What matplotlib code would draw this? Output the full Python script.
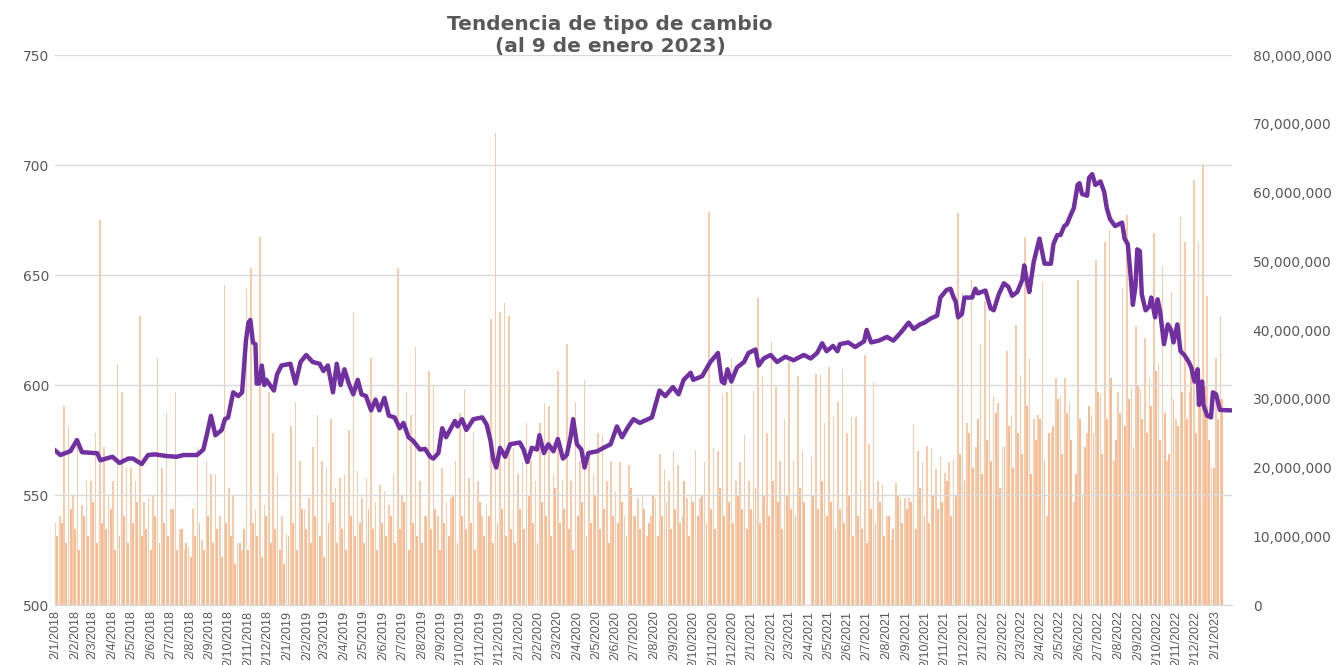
import matplotlib
matplotlib.use('Agg')
import matplotlib.pyplot as plt
from matplotlib.ticker import FuncFormatter
import numpy as np
import pandas as pd

# tipo de cambio (eje izquierdo)
rate_dates = [
    '2018-01-02', '2018-01-10', '2018-01-26', '2018-02-05', '2018-02-13', '2018-03-09', '2018-03-14',
    '2018-03-23', '2018-04-02', '2018-04-13', '2018-04-27', '2018-05-04', '2018-05-18', '2018-05-28',
    '2018-06-08', '2018-06-27', '2018-07-12', '2018-07-23', '2018-08-13', '2018-08-23', '2018-08-29',
    '2018-09-04', '2018-09-11', '2018-09-21', '2018-09-26', '2018-10-01', '2018-10-09', '2018-10-17',
    '2018-10-23', '2018-10-29', '2018-11-02', '2018-11-05', '2018-11-09', '2018-11-13', '2018-11-15',
    '2018-11-19', '2018-11-23', '2018-11-27', '2018-11-30', '2018-12-12', '2018-12-17', '2018-12-24',
    '2019-01-07', '2019-01-15', '2019-01-23', '2019-02-01', '2019-02-11', '2019-02-22', '2019-02-28',
    '2019-03-07', '2019-03-15', '2019-03-21', '2019-03-27', '2019-04-02', '2019-04-09', '2019-04-16',
    '2019-04-23', '2019-04-29', '2019-05-06', '2019-05-14', '2019-05-21', '2019-05-27', '2019-06-04',
    '2019-06-11', '2019-06-20', '2019-06-28', '2019-07-04', '2019-07-12', '2019-07-19', '2019-07-30',
    '2019-08-07', '2019-08-15', '2019-08-20', '2019-08-28', '2019-09-03', '2019-09-09', '2019-09-23',
    '2019-09-27', '2019-10-04', '2019-10-11', '2019-10-22', '2019-11-05', '2019-11-12', '2019-11-18',
    '2019-11-22', '2019-11-27', '2019-12-03', '2019-12-11', '2019-12-19',
    '2020-01-03', '2020-01-09', '2020-01-15', '2020-01-22', '2020-01-30', '2020-02-03', '2020-02-10',
    '2020-02-17', '2020-02-25', '2020-03-03', '2020-03-11', '2020-03-17', '2020-03-23', '2020-03-27',
    '2020-04-02', '2020-04-09', '2020-04-14', '2020-04-20', '2020-05-04', '2020-05-14', '2020-05-25',
    '2020-06-04', '2020-06-12', '2020-06-22', '2020-06-30', '2020-07-10', '2020-07-29', '2020-08-10',
    '2020-08-19', '2020-08-31', '2020-09-09', '2020-09-17', '2020-09-28', '2020-10-02', '2020-10-16',
    '2020-10-29', '2020-11-10', '2020-11-16', '2020-11-20', '2020-11-25', '2020-12-01', '2020-12-10',
    '2020-12-21', '2020-12-28',
    '2021-01-08', '2021-01-13', '2021-01-21', '2021-02-01', '2021-02-11', '2021-02-24', '2021-03-09',
    '2021-03-25', '2021-04-05', '2021-04-15', '2021-04-23', '2021-04-30', '2021-05-10', '2021-05-17',
    '2021-05-21', '2021-06-03', '2021-06-14', '2021-06-28', '2021-07-02', '2021-07-09', '2021-07-21',
    '2021-08-03', '2021-08-13', '2021-08-26', '2021-09-06', '2021-09-14', '2021-09-24', '2021-10-01',
    '2021-10-11', '2021-10-21', '2021-10-26', '2021-11-05', '2021-11-11', '2021-11-16', '2021-11-19',
    '2021-11-23', '2021-11-29', '2021-12-03', '2021-12-15', '2021-12-20', '2021-12-24',
    '2022-01-05', '2022-01-13', '2022-01-18', '2022-01-26', '2022-02-03', '2022-02-10', '2022-02-16',
    '2022-02-24', '2022-03-04', '2022-03-07', '2022-03-11', '2022-03-15', '2022-03-22', '2022-03-31',
    '2022-04-04', '2022-04-08', '2022-04-18', '2022-04-22', '2022-04-28', '2022-05-03', '2022-05-09',
    '2022-05-13', '2022-05-19', '2022-05-24', '2022-05-30', '2022-06-02', '2022-06-06', '2022-06-14',
    '2022-06-17', '2022-06-22', '2022-06-27', '2022-07-05', '2022-07-11', '2022-07-15', '2022-07-20',
    '2022-07-28', '2022-08-08', '2022-08-12', '2022-08-17', '2022-08-22', '2022-08-25', '2022-08-29',
    '2022-09-01', '2022-09-05', '2022-09-08', '2022-09-14', '2022-09-20', '2022-09-23', '2022-09-29',
    '2022-10-03', '2022-10-07', '2022-10-13', '2022-10-19', '2022-10-24', '2022-10-28', '2022-11-03',
    '2022-11-08', '2022-11-14', '2022-11-21', '2022-11-25', '2022-11-30', '2022-12-05', '2022-12-07',
    '2022-12-12', '2022-12-14', '2022-12-20', '2022-12-26', '2022-12-29',
    '2023-01-03', '2023-01-09', '2023-01-27',
]
rate_values = [
    570.2, 568.2, 570.0, 575.0, 569.5, 569.0, 565.8,
    566.6, 567.4, 564.6, 566.6, 566.6, 564.1, 568.2,
    568.5, 567.7, 567.4, 568.2, 568.2, 570.7, 578.0,
    586.0, 577.2, 579.6, 584.5, 585.3, 596.7, 595.0,
    596.7, 620.0, 628.4, 629.6, 619.4, 618.6, 600.7,
    600.7, 608.9, 600.0, 602.4, 597.5, 604.8, 608.9,
    609.7, 600.7, 610.5, 613.7, 610.5, 609.7, 606.4,
    608.9, 596.7, 609.7, 600.0, 607.2, 600.7, 595.8,
    602.4, 595.8, 595.0, 588.5, 593.4, 588.5, 594.2,
    586.1, 585.3, 580.4, 582.8, 576.3, 574.7, 570.7,
    571.0, 567.4, 566.6, 569.1, 580.4, 576.3, 583.7,
    581.2, 584.5, 579.6, 584.5, 585.3, 582.0, 574.7,
    566.6, 562.5, 571.5, 567.4, 573.1,
    573.9, 570.7, 565.0, 571.5, 570.7, 577.2, 569.1,
    573.1, 569.9, 575.5, 566.6, 568.2, 576.3, 584.5,
    573.1, 570.7, 562.5, 569.1, 569.9, 571.5, 573.1,
    581.2, 576.3, 581.2, 584.5, 582.8, 585.3, 597.5,
    595.0, 599.1, 595.8, 602.4, 605.6, 602.4, 604.0,
    610.5, 614.6, 601.6, 600.8, 607.2, 601.6, 608.0,
    610.5, 614.6,
    616.2, 608.9, 612.1, 613.7, 610.5, 612.9, 611.3,
    613.7, 612.1, 614.6, 619.0, 615.4, 617.8, 615.4,
    618.6, 619.4, 617.3, 619.9, 625.1, 619.4, 620.2,
    621.9, 620.2, 624.3, 628.4, 625.5, 627.6, 628.4,
    630.3, 631.6, 639.8, 643.3, 643.8, 639.8, 638.1,
    630.8, 632.4, 639.8, 639.8, 643.8, 641.7,
    643.0, 634.9, 634.0, 641.3, 646.3, 644.7, 640.6,
    642.3, 647.9, 654.4, 647.9, 642.3, 656.1, 666.6,
    660.9, 655.2, 655.2, 664.1, 668.2, 668.2, 672.3,
    673.1, 677.2, 680.4, 691.0, 691.8, 686.9, 686.1,
    694.2, 695.9, 691.0, 692.6, 687.7, 680.4, 675.5,
    672.3, 673.9, 666.6, 664.1, 647.9, 636.5, 644.7,
    661.7, 660.9, 641.3, 634.0, 635.7, 639.8, 630.8,
    639.0, 633.2, 618.6, 627.6, 625.1, 619.4, 627.6,
    615.4, 613.7, 610.5, 608.0, 601.6, 607.2, 591.0,
    601.6, 591.0, 586.1, 585.3, 596.7,
    595.8, 588.7, 588.5,
]

# volumen transado (eje derecho, millones), una lectura por semana desde 2/1/2018:
# el dia mas alto de cada semana ...
volume_peak_mm = [
    12, 13, 29, 26, 16, 24, 14.5, 18, 18, 25, 56, 23, 16, 18, 35, 31, 20, 20, 18, 42,
    15, 15.5, 16, 36, 20, 28, 14, 31, 11, 8, 8.5, 14, 23, 9.5, 21, 19, 19, 13, 46.6, 17,
    16, 9, 8, 46, 49, 14, 53.6, 14.5, 31, 25, 19, 13, 10.4, 26, 29.6, 21, 14, 15.6, 23, 27.6,
    21, 20, 27, 17, 18.5, 19, 25.5, 42.7, 19.5, 15.6, 18.5, 36, 15, 17.5, 16.6, 14.5, 19, 49, 15.9, 31,
    27.6, 37.5, 18, 13, 34, 32, 13, 20, 15, 15.6, 21, 28, 31.5, 18.5, 25, 18, 13, 14.6, 41.6, 68.7,
    42.7, 44, 42, 22.9, 19, 20.8, 26.5, 21, 18, 26.5, 29.4, 29, 19, 34, 18, 38, 18, 29.6, 21, 32.8,
    22.4, 19, 25, 24.7, 18, 21, 16.6, 20.8, 13, 20.3, 13, 15.6, 16, 10, 13, 15.6, 22, 19.8, 18, 22.4,
    20.3, 13, 15.6, 16, 22.6, 15.6, 20.8, 57.2, 22.9, 22.4, 30.7, 31, 35.9, 18, 20.8, 24.7, 18, 31.2, 44.7, 33.3,
    25, 38.2, 31.7, 21, 27, 35.4, 21, 33.3, 22.4, 0, 21.6, 33.6, 33.6, 26.5, 34.6, 27.3, 29.6, 34.3, 25, 27.3,
    27.3, 18, 36.4, 23.4, 32.5, 18, 17.4, 13, 9.4, 17.7, 15.6, 15.6, 15.6, 26.3, 22.4, 20.8, 23.1, 22.9, 19.8, 21.6,
    19.2, 20.8, 21.3, 57, 45.5, 26.5, 47.3, 23, 38, 44.2, 41.4, 30.4, 29.4, 23, 36.9, 27.6, 40.8, 33.5, 53.5, 35.9,
    27, 27.6, 47, 13, 25, 33, 30.4, 33, 29.4, 15, 47.3, 16, 25, 27.6, 50.2, 30.7, 52.8, 54.6, 21, 31,
    46, 56.7, 31.7, 40.6, 31.5, 38.8, 33, 54.1, 35, 49.4, 21, 45.5, 27, 56.4, 52.8, 31, 61.9, 52.8, 64.2, 45,
    20, 35.9, 42.1,
]
# ... y el nivel habitual del resto de la semana
volume_typ_mm = [
    10, 12, 9, 14, 11, 8, 13, 10, 15, 9, 12, 11, 14, 8, 10, 13, 9, 12, 15, 10,
    11, 8, 13, 9, 12, 10, 14, 8, 11, 9, 7, 10, 12, 8,
    13, 9, 11, 7, 12, 10, 6, 9, 11, 8, 12, 10, 7, 13, 9, 11, 8, 6,
    10, 12, 8, 14, 11, 9, 13, 10, 7, 12, 15, 9, 11, 8, 13, 10, 12, 9, 14, 11,
    8, 12, 10, 13, 9, 11, 15, 8, 12, 10, 9, 13, 11, 14, 8, 12, 10, 16, 9, 13,
    11, 12, 8, 15, 10, 13, 9, 12, 14, 10, 11, 9,
    14, 11, 16, 12, 9, 15, 13, 10, 17, 12, 14, 11, 8, 13, 15, 10, 12, 16, 11, 14,
    9, 13, 12, 15, 10, 17, 13, 11, 14, 12, 16, 10, 13, 15, 11, 14, 12, 18, 10, 15,
    13, 16, 12, 14, 11, 17, 13, 15, 12, 16, 14, 11,
    14, 17, 12, 16, 13, 18, 15, 11, 16, 14, 13, 17, 15, 0, 16, 14, 18, 13, 15, 11,
    14, 12, 16, 10, 13, 11, 9, 14, 12, 15, 10, 13, 11, 16, 12, 14, 15, 11, 17, 13,
    12, 16, 14, 15, 18, 13, 16,
    22, 18, 25, 20, 27, 19, 24, 21, 28, 17, 23, 26, 20, 25, 22, 29, 19, 24, 27, 21, 25,
    26, 30, 22, 28, 24, 19, 27, 23, 29, 25, 31, 22, 27, 33, 24, 28, 26, 30, 23, 32,
    27, 25, 29, 34, 24, 28, 22, 30, 26, 31, 27, 35, 25, 29, 32, 24, 20, 27, 30,
]

rd = pd.to_datetime(rate_dates)
vd_peak = pd.date_range('2018-01-02', periods=len(volume_peak_mm), freq='7D')
vd_typ = pd.date_range('2018-01-05', periods=len(volume_typ_mm), freq='7D')

gray = '#595959'
fig = plt.figure(figsize=(13.41, 6.65), dpi=100)
ax = fig.add_axes([0.041, 0.0902, 0.8777, 0.8268])
ax2 = ax.twinx()

ax2.bar(vd_typ, np.array(volume_typ_mm) * 1e6, width=3.0, color='#F4B183', alpha=0.85, linewidth=0)
ax2.bar(vd_peak, np.array(volume_peak_mm) * 1e6, width=2.4, color='#F6BE96', alpha=0.8, linewidth=0)
ax.plot(rd, rate_values, color='#7030A0', linewidth=3.2, solid_joinstyle='round')

ax.set_zorder(ax2.get_zorder() + 1)
ax.patch.set_visible(False)

ax.set_ylim(500, 750)
ax.set_yticks(np.arange(500, 751, 50))
ax2.set_ylim(0, 80e6)
ax2.set_yticks(np.arange(0, 80e6 + 1, 10e6))
ax2.yaxis.set_major_formatter(FuncFormatter(lambda v, p: '{:,.0f}'.format(v)))

ax.set_xlim(pd.Timestamp('2018-01-01 12:00'), pd.Timestamp('2023-01-28'))
ticks = pd.date_range('2018-01-01', '2023-01-01', freq='MS') + pd.Timedelta(days=1)
ax.set_xticks(ticks)
ax.set_xticklabels([f'{t.day}/{t.month}/{t.year}' for t in ticks], rotation=90,
                   fontsize=9, color=gray, family='Liberation Sans')

ax.grid(axis='y', color='#D9D9D9', linewidth=1)
ax.set_axisbelow(True)
for a in (ax, ax2):
    for s in ('top', 'left', 'right'):
        a.spines[s].set_visible(False)
    a.spines['bottom'].set_color('#D9D9D9')
    a.tick_params(length=0)
ax.tick_params(axis='y', labelsize=10, labelcolor=gray, pad=4)
ax2.tick_params(axis='y', labelsize=10, labelcolor=gray, pad=15)
ax.tick_params(axis='x', pad=4)

fig.text(0.455, 0.978, 'Tendencia de tipo de cambio\n(al 9 de enero 2023)', ha='center', va='top',
         fontsize=14.5, fontweight='bold', color=gray, linespacing=1.2)

fig.savefig('out.png', dpi=100)
